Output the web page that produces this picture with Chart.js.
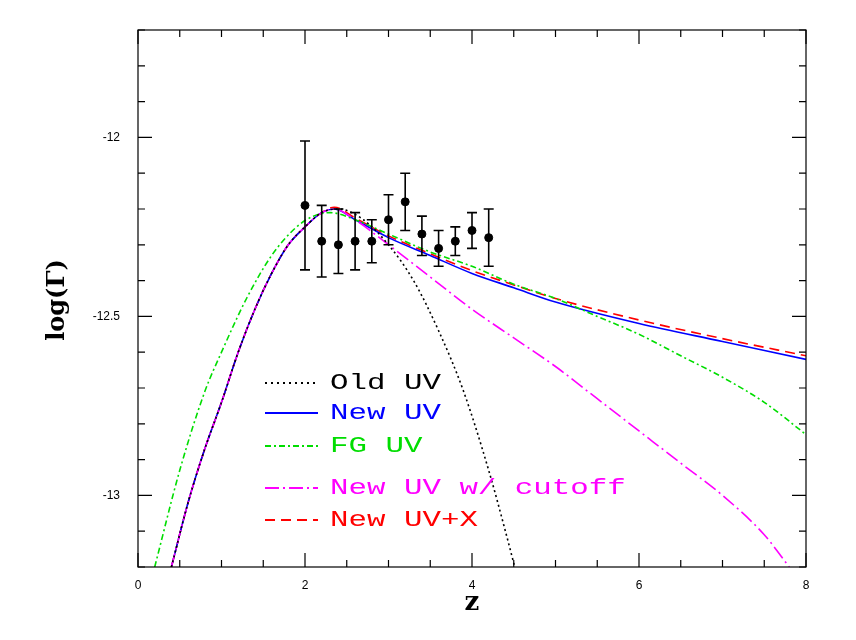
<!DOCTYPE html>
<html>
<head>
<meta charset="utf-8">
<script src="https://cdn.jsdelivr.net/npm/chart.js@4"></script>
<style>
  body { margin: 0; background: #fff; }
  #wrap { width: 856px; height: 640px; }
</style>
</head>
<body>
<div id="wrap"><canvas id="myChart" width="856" height="640"></canvas></div>
<script>
// data points with error bars
var obsZ    = [2.0, 2.2, 2.4, 2.6, 2.8, 3.0, 3.2, 3.4, 3.6, 3.8, 4.0, 4.2];
var obsLogG = [-12.19, -12.29, -12.30, -12.29, -12.29, -12.23, -12.18, -12.27, -12.31, -12.29, -12.26, -12.28];
var obsHi   = [-12.01, -12.19, -12.20, -12.21, -12.23, -12.16, -12.10, -12.22, -12.26, -12.25, -12.21, -12.20];
var obsLo   = [-12.37, -12.39, -12.38, -12.37, -12.35, -12.30, -12.26, -12.33, -12.36, -12.33, -12.31, -12.36];

// model curves
var oldZ  = [0.4, 0.6, 0.8, 1.0, 1.2, 1.4, 1.6, 1.8, 2.0, 2.2, 2.4, 2.7, 3.0, 3.3, 3.6, 3.9, 4.2, 4.4, 4.6];
var oldG  = [-13.2, -13.02, -12.87, -12.74, -12.6, -12.48, -12.38, -12.3, -12.25, -12.21, -12.2, -12.23, -12.3, -12.4, -12.54, -12.71, -12.93, -13.1, -13.28];

var newZ  = [0.4, 0.6, 0.8, 1.0, 1.2, 1.4, 1.6, 1.8, 2.0, 2.2, 2.35, 2.6, 3.0, 3.5, 4.0, 4.5, 5.0, 6.0, 7.0, 8.0];
var newG  = [-13.2, -13.02, -12.87, -12.74, -12.6, -12.48, -12.38, -12.3, -12.25, -12.21, -12.2, -12.23, -12.28, -12.33, -12.38, -12.42, -12.46, -12.52, -12.57, -12.62];
var newXG = [-13.2, -13.02, -12.87, -12.74, -12.6, -12.48, -12.38, -12.3, -12.25, -12.21, -12.195, -12.225, -12.275, -12.325, -12.372, -12.412, -12.45, -12.51, -12.562, -12.61];

var fgZ   = [0.2, 0.5, 0.8, 1.0, 1.3, 1.6, 1.9, 2.1, 2.3, 2.6, 3.0, 3.5, 4.0, 4.5, 5.0, 5.5, 6.0, 6.5, 7.0, 7.5, 8.0];
var fgG   = [-13.2, -12.93, -12.71, -12.6, -12.45, -12.33, -12.25, -12.22, -12.21, -12.23, -12.27, -12.32, -12.36, -12.41, -12.45, -12.5, -12.55, -12.61, -12.67, -12.74, -12.83];

var cutZ  = [0.4, 0.6, 0.8, 1.0, 1.2, 1.4, 1.6, 1.8, 2.0, 2.2, 2.35, 2.6, 3.0, 3.5, 4.0, 4.5, 5.0, 5.5, 6.0, 6.5, 7.0, 7.5, 7.8];
var cutG  = [-13.2, -13.02, -12.87, -12.74, -12.6, -12.48, -12.38, -12.3, -12.25, -12.21, -12.2, -12.23, -12.3, -12.39, -12.48, -12.56, -12.64, -12.73, -12.82, -12.91, -13.0, -13.11, -13.2];

var xMajor = [0, 2, 4, 6, 8];
var yMajor = [-12, -12.5, -13];

function pts(xs, ys) {
    var out = [];
    for (var i = 0; i < xs.length; i++) out.push({x: xs[i], y: ys[i]});
    return out;
}

function curve(label, xs, ys, color, dash) {
    return {
        type: 'line', label: label, data: pts(xs, ys),
        borderColor: color, borderWidth: 1.6, borderDash: dash,
        pointRadius: 0, cubicInterpolationMode: 'monotone', fill: false
    };
}

var legendRows = [
    {text: 'Old UV', color: '#000', dash: [2, 4], y: 383},
    {text: 'New UV', color: '#0000ff', dash: [], y: 413},
    {text: 'FG UV', color: '#00dd00', dash: [6, 3, 2, 3], y: 446},
    {text: 'New UV w/ cutoff', color: '#ff00ff', dash: [14, 4, 2, 4], y: 488},
    {text: 'New UV+X', color: '#ff0000', dash: [10, 6], y: 520}
];

// FUNCTION: frame, ticks, labels, error bars and legend
var decor = {
    id: 'decor',
    afterDatasetsDraw: function(chart) {
        var c = chart.ctx, a = chart.chartArea;
        var xs = chart.scales.x, ys = chart.scales.y;
        c.save();
        c.strokeStyle = '#000';
        c.lineWidth = 1.2;
        c.setLineDash([]);
        c.strokeRect(a.left, a.top, a.right - a.left, a.bottom - a.top);

        // x ticks
        for (var v = 0; v <= 8.001; v += 0.5) {
            var px = xs.getPixelForValue(v);
            var len = (Math.abs(v % 2) < 0.01) ? 14 : 7;
            c.beginPath();
            c.moveTo(px, a.bottom); c.lineTo(px, a.bottom - len);
            c.moveTo(px, a.top); c.lineTo(px, a.top + len);
            c.stroke();
        }
        // y ticks
        for (var k = -132; k <= -117; k++) {
            var py = ys.getPixelForValue(k / 10);
            var len2 = (k % 5 === 0) ? 14 : 7;
            c.beginPath();
            c.moveTo(a.left, py); c.lineTo(a.left + len2, py);
            c.moveTo(a.right, py); c.lineTo(a.right - len2, py);
            c.stroke();
        }

        c.fillStyle = '#000';
        c.font = '12px "Liberation Sans"';
        c.textAlign = 'center'; c.textBaseline = 'top';
        xMajor.forEach(function(v) { c.fillText(String(v), xs.getPixelForValue(v), a.bottom + 13); });
        c.textAlign = 'right'; c.textBaseline = 'middle';
        yMajor.forEach(function(v) { c.fillText(String(v), a.left - 18, ys.getPixelForValue(v)); });

        // axis titles
        c.font = 'bold 26px "DejaVu Serif"';
        c.textAlign = 'center'; c.textBaseline = 'middle';
        c.fillText('z', (a.left + a.right) / 2, 603);
        c.save();
        c.translate(58, 300);
        c.rotate(-Math.PI / 2);
        c.font = 'bold 24px "DejaVu Serif"';
        c.fillText('log(\u0393)', 0, 0);
        c.restore();

        // error bars
        c.lineWidth = 1.6;
        for (var i = 0; i < obsZ.length; i++) {
            var ex = xs.getPixelForValue(obsZ[i]);
            var hi = ys.getPixelForValue(obsHi[i]), lo = ys.getPixelForValue(obsLo[i]);
            c.beginPath();
            c.moveTo(ex, hi); c.lineTo(ex, lo);
            c.moveTo(ex - 5, hi); c.lineTo(ex + 5, hi);
            c.moveTo(ex - 5, lo); c.lineTo(ex + 5, lo);
            c.stroke();
        }

        // legend (stretched mono text, like the original plot font)
        legendRows.forEach(function(r) {
            c.strokeStyle = r.color;
            c.lineWidth = 2;
            c.setLineDash(r.dash);
            c.beginPath(); c.moveTo(265, r.y); c.lineTo(318, r.y); c.stroke();
            c.save();
            c.translate(330, r.y);
            c.scale(1.4, 1);
            c.font = '22px "Liberation Mono"';
            c.textAlign = 'left'; c.textBaseline = 'middle';
            c.fillStyle = r.color;
            c.fillText(r.text, 0, 0);
            c.restore();
        });
        c.restore();
    }
};

var ctx = document.getElementById('myChart').getContext('2d');
var chart = new Chart(ctx, {
    type: 'scatter',
    data: {
        datasets: [
            curve('Old UV', oldZ, oldG, '#000', [2, 3]),
            curve('FG UV', fgZ, fgG, '#00dd00', [6, 3, 2, 3]),
            curve('New UV w/ cutoff', cutZ, cutG, '#ff00ff', [14, 4, 2, 4]),
            curve('New UV', newZ, newG, '#0000ff', []),
            curve('New UV+X', newZ, newXG, '#ff0000', [10, 6]),
            {
                type: 'scatter', label: 'data', data: pts(obsZ, obsLogG),
                backgroundColor: '#000', borderColor: '#000', pointRadius: 4
            }
        ]
    },
    options: {
        responsive: false,
        animation: false,
        layout: { padding: { left: 138, right: 50, top: 30, bottom: 73 } },
        plugins: { legend: { display: false }, tooltip: { enabled: false } },
        scales: {
            x: { type: 'linear', min: 0, max: 8, display: false },
            y: { type: 'linear', min: -13.2, max: -11.7, display: false }
        }
    },
    plugins: [decor]
});
</script>
</body>
</html>
